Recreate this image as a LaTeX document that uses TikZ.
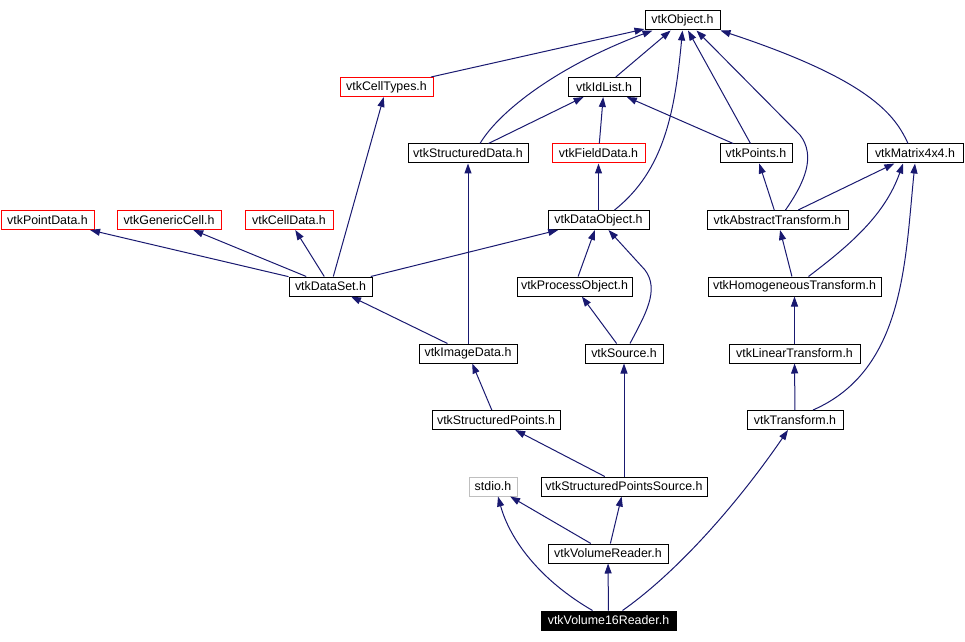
\documentclass[tikz,border=0pt]{standalone}
\usepackage{fontspec}
\newfontfamily\hdrfont{Liberation Sans}
\usetikzlibrary{arrows.meta,calc}
\definecolor{edgeblue}{HTML}{191970}
\definecolor{sysgrey}{HTML}{BFBFBF}

\begin{document}
\begin{tikzpicture}[
    x=0.75pt, y=-0.75pt,
    font=\hdrfont\fontsize{9.3}{10}\selectfont,
    >={Triangle[length=7.5pt,width=5.25pt]},
    hdr/.style={draw, line width=0.75pt, inner sep=0pt, minimum height=14.25pt},
    wpx/.style={minimum width=#1*0.75pt},
    undoc/.style={hdr, draw=red},
    sys/.style={hdr, draw=sysgrey},
    this/.style={hdr, fill=black, text=white},
    dep/.style={->, edgeblue, line width=0.75pt},
  ]
  \useasboundingbox (0,0) rectangle (965,642);

  %% ---- headers --------------------------------------------------------
  \node[hdr, wpx=75]    (object)      at (682.5,20.5) {vtkObject.h};
  \node[undoc, wpx=93]  (celltypes)   at (386.5,87)   {vtkCellTypes.h};
  \node[hdr, wpx=72]    (idlist)      at (604,87)     {vtkIdList.h};
  \node[hdr, wpx=120]   (sdata)       at (468,153.5)  {vtkStructuredData.h};
  \node[undoc, wpx=93]  (fielddata)   at (598.5,153.5) {vtkFieldData.h};
  \node[hdr, wpx=72]    (points)      at (756,153.5)  {vtkPoints.h};
  \node[hdr, wpx=96]    (matrix)      at (915,153.5)  {vtkMatrix4x4.h};
  \node[undoc, wpx=93]  (pointdata)   at (47.5,220)   {vtkPointData.h};
  \node[undoc, wpx=104] (genericcell) at (169,220)    {vtkGenericCell.h};
  \node[undoc, wpx=88]  (celldata)    at (289,220)    {vtkCellData.h};
  \node[hdr, wpx=101]   (dataobject)  at (598.5,220)  {vtkDataObject.h};
  \node[hdr, wpx=141]   (abstract)    at (777.5,220)  {vtkAbstractTransform.h};
  \node[hdr, wpx=83]    (dataset)     at (330.5,286.5) {vtkDataSet.h};
  \node[hdr, wpx=115]   (procobject)  at (574.5,286.5) {vtkProcessObject.h};
  \node[hdr, wpx=173]   (homog)       at (794.5,286.5) {vtkHomogeneousTransform.h};
  \node[hdr, wpx=98]    (imagedata)   at (468,353.5)  {vtkImageData.h};
  \node[hdr, wpx=78]    (source)      at (624,353.5)  {vtkSource.h};
  \node[hdr, wpx=131]   (linear)      at (794.5,353.5) {vtkLinearTransform.h};
  \node[hdr, wpx=128]   (spoints)     at (496,420)    {vtkStructuredPoints.h};
  \node[hdr, wpx=96]    (transform)   at (795,420)    {vtkTransform.h};
  \node[sys, wpx=48]    (stdio)       at (493,486.5)  {stdio.h};
  \node[hdr, wpx=166]   (spsource)    at (624,486.5)  {vtkStructuredPointsSource.h};
  \node[hdr, wpx=120]   (vreader)     at (608,553.5)  {vtkVolumeReader.h};
  \node[this, wpx=135]  (v16)         at (608.5,620.5) {vtkVolume16Reader.h};

  %% ---- includes -------------------------------------------------------
  \draw[dep] (celltypes) -- (object);
  \draw[dep] ($(sdata.north)+(12,0)$) .. controls (500,110) and (560,65) .. ($(object.south west)+(8,0)$);
  \draw[dep] (idlist) -- (object);
  \draw[dep] ($(dataobject.north)+(16,0)$) .. controls (665,170) and (675,110) .. (object.south);
  \draw[dep] (points) -- (object);
  \draw[dep] ($(abstract.north)+(8,0)$) .. controls (805,182) and (816,156) .. (800,135) -- ($(object.south)+(14,0)$);
  \draw[dep] ($(matrix.north)+(-7,0)$) .. controls (895,115) and (870,80) .. (object.south east);

  \draw[dep] (sdata) -- (idlist);
  \draw[dep] (fielddata) -- (idlist);
  \draw[dep] (points) -- (idlist);
  \draw[dep] (dataobject) -- (fielddata);

  \draw[dep] (dataset) -- (pointdata);
  \draw[dep] (dataset) -- (genericcell);
  \draw[dep] (dataset) -- (celldata);
  \draw[dep] (dataset) -- (celltypes);
  \draw[dep] (dataset) -- (dataobject);

  \draw[dep] (imagedata) -- (dataset);
  \draw[dep] (imagedata) -- (sdata);
  \draw[dep] (procobject) -- (dataobject);
  \draw[dep] (source) -- (procobject);
  \draw[dep] ($(source.north)+(6,0)$) .. controls (645,315) and (660,290) .. (645,270) -- ($(dataobject.south)+(10,0)$);

  \draw[dep] (abstract) -- (points);
  \draw[dep] (abstract) -- (matrix);
  \draw[dep] (homog) -- (abstract);
  \draw[dep] ($(homog.north)+(14,0)$) .. controls (850,245) and (885,215) .. ($(matrix.south)+(-12,0)$);
  \draw[dep] (linear) -- (homog);
  \draw[dep] (transform) -- (linear);
  \draw[dep] ($(transform.north)+(18,0)$) .. controls (905,370) and (905,260) .. (matrix.south);

  \draw[dep] (spoints) -- (imagedata);
  \draw[dep] (spsource) -- (spoints);
  \draw[dep] (spsource) -- (source);
  \draw[dep] (vreader) -- (stdio);
  \draw[dep] (vreader) -- (spsource);
  \draw[dep] ($(v16.north)+(-16,0)$) .. controls (540,580) and (510,540) .. ($(stdio.south)+(5,0)$);
  \draw[dep] (v16) -- (vreader);
  \draw[dep] ($(v16.north)+(14,0)$) .. controls (680,570) and (740,500) .. ($(transform.south)+(-7,0)$);
\end{tikzpicture}
\end{document}
